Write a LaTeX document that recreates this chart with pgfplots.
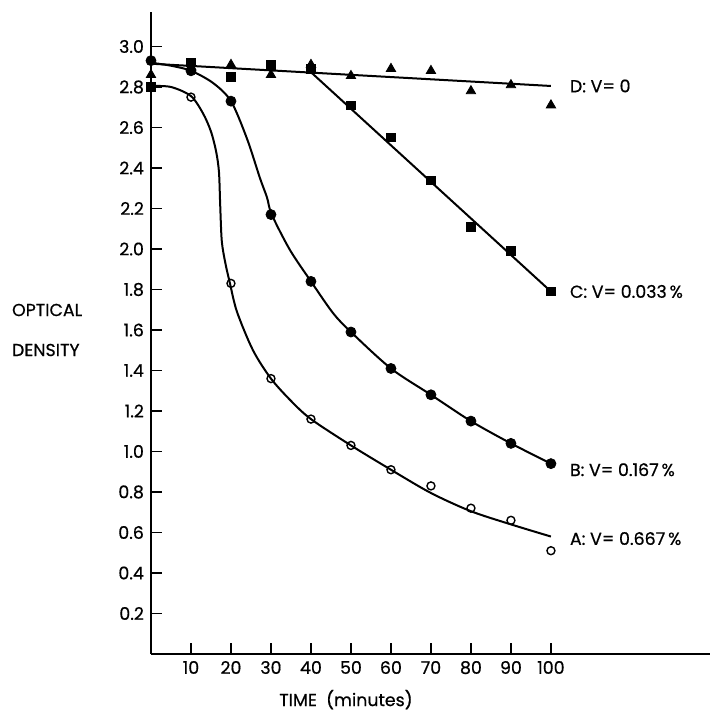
\documentclass[border=0pt]{standalone}
\usepackage{pgfplots}
\pgfplotsset{compat=1.18}
\usepackage{fontspec}
\setmainfont{Poppins}[FakeBold=0.6]
\begin{document}
\begin{tikzpicture}
\begin{axis}[
  scale only axis,
  width=279.5pt, height=321pt,
  xmin=0, xmax=139.75, ymin=0, ymax=3.17,
  axis lines=left,
  axis line style={-, line width=0.8pt},
  tick align=inside,
  major tick length=5.5pt,
  tick style={black, line width=0.7pt},
  xtick={10,20,...,100},
  ytick={0.2,0.4,0.6,0.8,1.0,1.2,1.4,1.6,1.8,2.0,2.2,2.4,2.6,2.8,3.0},
  yticklabel style={/pgf/number format/fixed, /pgf/number format/fixed zerofill, /pgf/number format/precision=1},
  /pgf/number format/assume math mode=true,
  ticklabel style={font=\fontsize{8.7}{10}\selectfont},
  clip=false,
]
% fitted curves
\addplot[black, line width=1pt, smooth, tension=0.5] coordinates {
 (0,2.805) (5,2.80) (10,2.755) (13,2.67) (15,2.58) (16.3,2.48) (17,2.38) (17.3,2.22) (17.7,2.04) (18.6,1.93) (19.75,1.83) (21.5,1.69) (25.5,1.50) (30,1.36) (35,1.25) (40,1.16) (50,1.03) (60,0.91) (70,0.795) (80,0.705) (90,0.64) (100,0.58)};
\addplot[black, line width=1pt, smooth, tension=0.5] coordinates {
 (0,2.92) (5,2.905) (10,2.88) (15.5,2.82) (20,2.73) (24,2.545) (27.25,2.35) (29,2.255) (30.2,2.17) (34.75,1.995) (40,1.84) (45.5,1.684) (50,1.59) (60,1.41) (70,1.28) (80,1.15) (90,1.04) (100,0.94)};
\addplot[black, line width=1pt] coordinates {(40,2.873) (100,1.79)};
\addplot[black, line width=1pt] coordinates {(0,2.915) (100,2.805)};
% data points
\addplot[only marks, mark=o, mark size=2pt, mark options={line width=0.7pt}] coordinates {
 (0,2.80) (10,2.75) (20,1.83) (30,1.36) (40,1.16) (50,1.03) (60,0.91) (70,0.83) (80,0.72) (90,0.66) (100,0.51)};
\addplot[only marks, mark=*, mark size=2.5pt] coordinates {
 (0,2.93) (10,2.88) (20,2.73) (30,2.17) (40,1.84) (50,1.59) (60,1.41) (70,1.28) (80,1.15) (90,1.04) (100,0.94)};
\addplot[only marks, mark=triangle*, mark size=2.7pt] coordinates {
 (0,2.86) (10,2.90) (20,2.91) (30,2.86) (40,2.91) (50,2.855) (60,2.89) (70,2.88) (80,2.78) (90,2.81) (100,2.71)};
\addplot[only marks, mark=square*, mark size=2.1pt] coordinates {
 (0,2.80) (10,2.92) (20,2.85) (30,2.91) (40,2.89) (50,2.71) (60,2.55) (70,2.34) (80,2.11) (90,1.99) (100,1.79)};
% labels
\node[anchor=west, font=\fontsize{8.7}{10}\selectfont] at (axis cs:103,2.805) {D: V= 0};
\node[anchor=west, font=\fontsize{8.7}{10}\selectfont] at (axis cs:103,1.79) {C: V= 0.033\,\%};
\node[anchor=west, font=\fontsize{8.7}{10}\selectfont] at (axis cs:103,0.91) {B: V= 0.167\,\%};
\node[anchor=west, font=\fontsize{8.7}{10}\selectfont] at (axis cs:103,0.57) {A: V= 0.667\,\%};
\node[anchor=west, align=left, font=\fontsize{8.7}{20}\selectfont] at (axis cs:-36.5,1.6) {OPTICAL\\DENSITY};
\node[font=\fontsize{8.7}{10}\selectfont] at (axis cs:48.75,-0.225) {TIME\ \ (minutes)};
\coordinate (bl) at (axis cs:-37.75,-0.2815);
\coordinate (tr) at (axis cs:139.75,3.2296);
\end{axis}
\pgfresetboundingbox
\path (bl) rectangle (tr);
\end{tikzpicture}
\end{document}
